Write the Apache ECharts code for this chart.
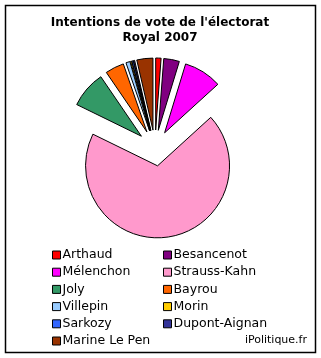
<!DOCTYPE html>
<html><head><meta charset="utf-8">
<script src="https://cdn.jsdelivr.net/npm/echarts@6/dist/echarts.min.js"></script>
<style>html,body{margin:0;padding:0;background:#fff}#c{width:321px;height:358px}</style>
</head><body><div id="c"></div>
<script>
var titleText = "Intentions de vote de l'électorat\nRoyal 2007";
var candidates = ['Arthaud','Besancenot','Mélenchon','Strauss-Kahn','Joly','Bayrou','Villepin','Morin','Sarkozy','Dupont-Aignan','Marine Le Pen'];
var values = [1.2, 3.5, 8.5, 68.8, 8.2, 4.2, 0.9, 0.25, 0.3, 0.25, 3.6];
var colors = ['#ff0000','#800080','#ff00ff','#ff99cc','#339966','#ff6600','#99ccff','#ffcc00','#3366ff','#333399','#993300'];
var legendCol1 = ['Arthaud','Mélenchon','Joly','Villepin','Sarkozy','Marine Le Pen'];
var legendCol2 = ['Besancenot','Strauss-Kahn','Bayrou','Morin','Dupont-Aignan'];

var data = candidates.map(function(n,i){return {name:n,value:values[i],selected:true,itemStyle:{color:colors[i]}};});
var legendCommon = {
  orient:'vertical', icon:'rect', itemWidth:8, itemHeight:8, itemGap:3.2,
  selectedMode:false,
  itemStyle:{borderColor:'#000',borderWidth:1},
  textStyle:{fontFamily:'DejaVu Sans',fontSize:12.5,color:'#000',lineHeight:14,padding:[0,0,0,-3]},
  padding:0
};
var chart = echarts.init(document.getElementById('c'),null,{renderer:'canvas'});
chart.setOption({
  animation:false,
  title:{text:titleText,left:160,textAlign:'center',top:15,padding:0,itemGap:0,
    textStyle:{fontFamily:'DejaVu Sans',fontWeight:'bold',fontSize:12,lineHeight:15,color:'#000'}},
  legend:[
    Object.assign({},legendCommon,{data:legendCol1,left:52,top:248}),
    Object.assign({},legendCommon,{data:legendCol2,left:163,top:248})
  ],
  graphic:[
    {type:'rect',shape:{x:5.5,y:5.5,width:310,height:347},style:{fill:null,stroke:'#000',lineWidth:1.5},silent:true},
    {type:'text',right:14,top:335,style:{text:'iPolitique.fr',font:'11px DejaVu Sans',fill:'#000'}}
  ],
  series:[{
    type:'pie',
    center:[155,148], radius:[0,72],
    startAngle:90, clockwise:true,
    selectedMode:'multiple', selectedOffset:18,
    avoidLabelOverlap:false,
    label:{show:false}, labelLine:{show:false},
    itemStyle:{borderColor:'#000',borderWidth:1},
    emphasis:{disabled:true},
    data:data
  }]
});
</script></body></html>
